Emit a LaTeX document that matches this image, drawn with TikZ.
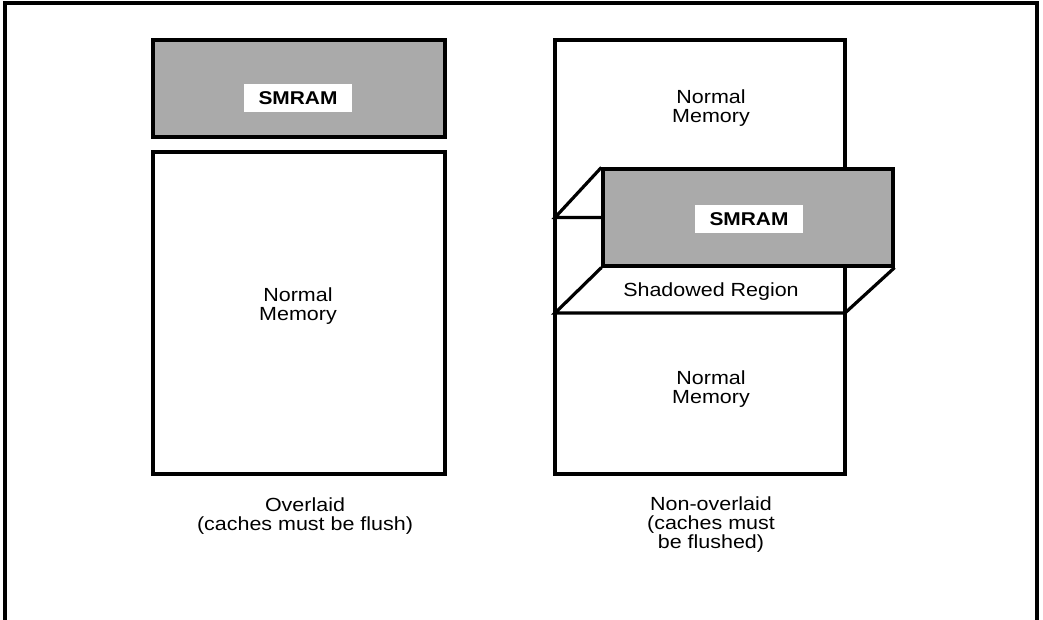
\documentclass[tikz,border=0pt]{standalone}
\usepackage{fontspec}
\setmainfont[FakeStretch=1.13]{Liberation Sans}
\usetikzlibrary{
    positioning  % For label positioning
}
\definecolor{smramgray}{RGB}{170,170,170}

\begin{document}
\begin{tikzpicture}[
    x=1pt, y=-1pt,
    frame/.style={line width=3.2pt},          % Style for the outer frame
    membox/.style={draw, rectangle, line width=3.2pt, inner sep=0pt}, % Memory blocks
    smrambox/.style={membox, fill=smramgray}, % Grey SMRAM blocks
    tag/.style={fill=white, inner sep=0pt, minimum width=108pt, minimum height=28pt,
        font=\fontsize{18.5}{19}\selectfont\bfseries}, % White SMRAM label
    memtext/.style={align=center, inner sep=0pt, font=\fontsize{19}{19}\selectfont},
    edge/.style={line width=3.2pt}           % Perspective lines
]
    \useasboundingbox (0,0) rectangle (1043,620);

    % Outer frame, open at the bottom
    \draw[frame] (5,620) -- (5,3) -- (1037,3) -- (1037,620);

    % Left column: overlaid
    \node[smrambox, minimum width=292pt, minimum height=97pt] (smramL) at (299,88.5) {};
    \node[tag] (tagL) at (298,98) {SMRAM};
    \node[membox, minimum width=292pt, minimum height=322pt] (normL) at (299,313) {};
    \node[memtext] (textL) at (298,306) {Normal\\Memory};
    \node[memtext, below=22pt of normL, xshift=6pt] (capL) {Overlaid\\(caches must be flush)};

    % Right column: non-overlaid
    \node[membox, minimum width=290pt, minimum height=434pt] (outerR) at (700,257) {};
    \node[memtext] (textRtop) at (711,108) {Normal\\Memory};
    \node[memtext] (textRbot) at (711,389) {Normal\\Memory};

    % Shadowed region behind the SMRAM block
    \coordinate (backL) at (555,217.5); % Back left corner
    \coordinate (shL) at (555,313);     % Front bottom left
    \coordinate (shR) at (845,313);     % Front bottom right
    \node[smrambox, minimum width=290pt, minimum height=97pt] (smramR) at (748,217.5) {};
    \node[tag] (tagR) at (749,219) {SMRAM};
    \draw[edge] (smramR.north west) -- (backL) -- (smramR.west);
    \draw[edge] (smramR.south west) -- (shL) -- (shR) -- (smramR.south east);
    \node[memtext] (shade) at (711,292) {Shadowed Region};
    \node[memtext, below=21pt of outerR, xshift=11pt] (capR) {Non-overlaid\\(caches must\\be flushed)};

\end{tikzpicture}
\end{document}
